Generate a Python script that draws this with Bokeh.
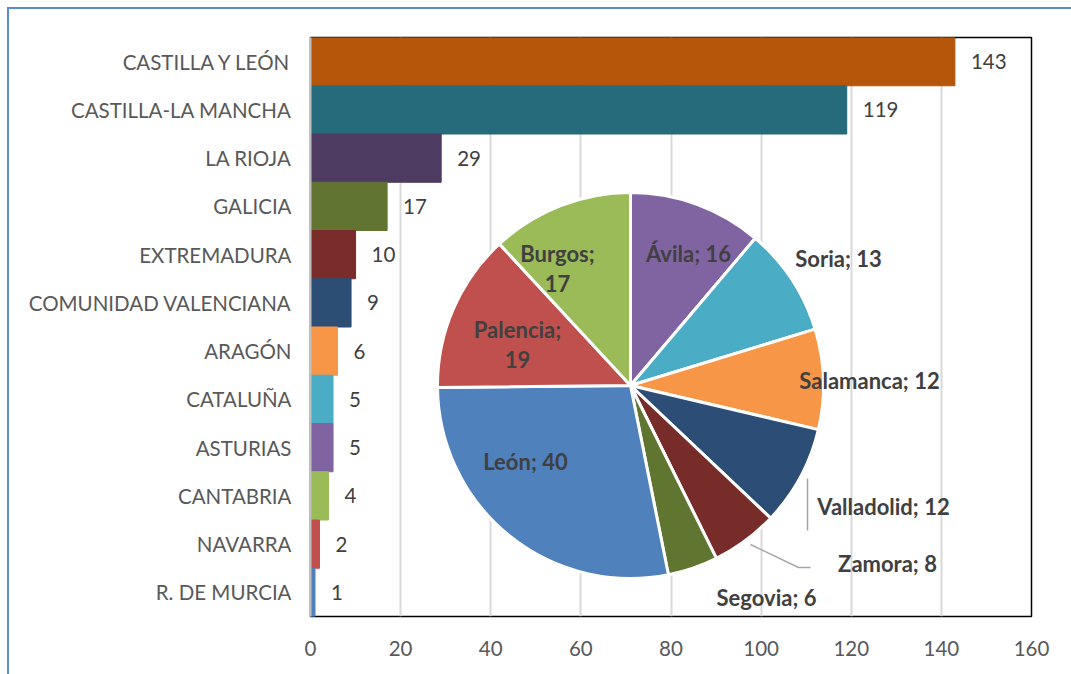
import math
from bokeh.plotting import figure
from bokeh.models import Range1d, FixedTicker, ColumnDataSource
from bokeh.core.properties import value
from bokeh.embed import file_html
from bokeh.resources import INLINE

# ---- bar data ----
regions = ["CASTILLA Y LEÓN", "CASTILLA-LA MANCHA", "LA RIOJA", "GALICIA", "EXTREMADURA",
           "COMUNIDAD VALENCIANA", "ARAGÓN", "CATALUÑA", "ASTURIAS", "CANTABRIA",
           "NAVARRA", "R. DE MURCIA"]
region_counts = [143, 119, 29, 17, 10, 9, 6, 5, 5, 4, 2, 1]
bar_colors = ["#B5560A", "#266B7B", "#4D3B62", "#627431", "#7A2C2B", "#2C4D74",
              "#F79646", "#4BACC6", "#8064A2", "#9BBB59", "#C0504D", "#4F81BD"]
x_ticks = [0, 20, 40, 60, 80, 100, 120, 140, 160]

# ---- pie data (clockwise from 12 o'clock) ----
provinces = ["Ávila", "Soria", "Salamanca", "Valladolid", "Zamora", "Segovia", "León", "Palencia", "Burgos"]
province_counts = [16, 13, 12, 12, 8, 6, 40, 19, 17]
pie_colors = ["#8064A2", "#4BACC6", "#F79646", "#2C4D75", "#772C2A", "#5F7530", "#4F81BD", "#C0504D", "#9BBB59"]
pie_label_text = ["Ávila; 16", "Soria; 13", "Salamanca; 12", "Valladolid; 12", "Zamora; 8",
                  "Segovia; 6", "León; 40", "Palencia;\n19", "Burgos;\n17"]
# label offsets from pie centre, in pixels (layout)
pie_label_dx = [58, 208, 239, 253, 257, 136, -105, -113, -73]
pie_label_dy = [132, 127, 5, -121, -178, -212, -76, 41, 117]

FONT = "Lato"
OFF = 9                       # figure placed 9px from the page corner
W, H = 1071 - OFF, 674 - OFF
ML, MT, FW, FH = 310 - OFF, 37 - OFF, 721, 579

n = len(regions)
ypos = [n - 0.5 - i for i in range(n)]  # first category at the top

p = figure(width=W, height=H, output_backend="svg", toolbar_location=None,
           x_range=Range1d(0, 160), y_range=Range1d(0, n),
           min_border_left=ML, min_border_top=MT, min_border_right=W - ML - FW,
           min_border_bottom=H - MT - FH)
p.margin = (OFF, 0, 0, OFF)
# outer chart-area border: only its left and top edges fall inside the window
p.styles = {"box-shadow": "-2px 0 0 0 #5B8BD0, 0 -2px 0 0 #5B8BD0, -2px -2px 0 0 #5B8BD0"}
p.outline_line_color = "black"
p.outline_line_width = 1.5

p.ygrid.grid_line_color = None
p.xgrid.grid_line_color = "#D9D9D9"
p.xgrid.grid_line_width = 2
p.xaxis.ticker = FixedTicker(ticks=x_ticks)
p.xaxis.axis_line_color = None
p.xaxis.major_tick_line_color = None
p.xaxis.minor_tick_line_color = None
p.xaxis.major_label_standoff = 18
p.yaxis.ticker = FixedTicker(ticks=ypos)
p.yaxis.major_label_overrides = {y: r for y, r in zip(ypos, regions)}
p.yaxis.axis_line_color = "#BFBFBF"
p.yaxis.axis_line_width = 2
p.yaxis.major_tick_line_color = None
p.yaxis.minor_tick_line_color = None
p.yaxis.major_label_standoff = 13
for ax in (p.xaxis, p.yaxis):
    ax.major_label_text_font = FONT
    ax.major_label_text_font_size = "20.5px"
    ax.major_label_text_color = "#595959"

src = ColumnDataSource(dict(y=ypos, v=region_counts, c=bar_colors, t=[str(v) for v in region_counts]))
p.hbar(y="y", right="v", left=0, height=1.0, color="c", source=src)
p.text(x="v", y="y", text="t", source=src, x_offset=16, text_align="left", text_baseline="middle",
       text_font=value(FONT), text_font_size="20.5px", text_color="#404040")

# ---- pie in pixel coordinates ----
p.extra_x_ranges = {"px": Range1d(0, FW)}
p.extra_y_ranges = {"px": Range1d(0, FH)}
cx, cy, R = 320, 231, 193
total = sum(province_counts)
starts, ends, acc = [], [], 0
for v in province_counts:
    starts.append(math.pi / 2 - 2 * math.pi * acc / total)
    acc += v
    ends.append(math.pi / 2 - 2 * math.pi * acc / total)
psrc = ColumnDataSource(dict(x=[cx] * len(provinces), y=[cy] * len(provinces), s=starts, e=ends, c=pie_colors,
                             lx=[cx + d for d in pie_label_dx], ly=[cy + d for d in pie_label_dy], t=pie_label_text))
p.wedge(x="x", y="y", radius=R, radius_units="screen", start_angle="s", end_angle="e", direction="clock",
        fill_color="c", line_color="white", line_width=3, source=psrc, x_range_name="px", y_range_name="px")

# leader lines
p.line(x=[cx + 177, cx + 177], y=[cy - 93, cy - 145], line_color="#A6A6A6", line_width=1.5,
       x_range_name="px", y_range_name="px")
p.line(x=[cx + 120, cx + 168, cx + 180], y=[cy - 159, cy - 182, cy - 182], line_color="#A6A6A6", line_width=1.5,
       x_range_name="px", y_range_name="px")

p.text(x="lx", y="ly", text="t", source=psrc, text_align="center", text_baseline="middle",
       text_font=value(FONT), text_font_size="22px", text_font_style="bold", text_color="#404040",
       text_line_height=1.13, x_range_name="px", y_range_name="px")

open("out.html", "w").write(file_html(p, INLINE))
